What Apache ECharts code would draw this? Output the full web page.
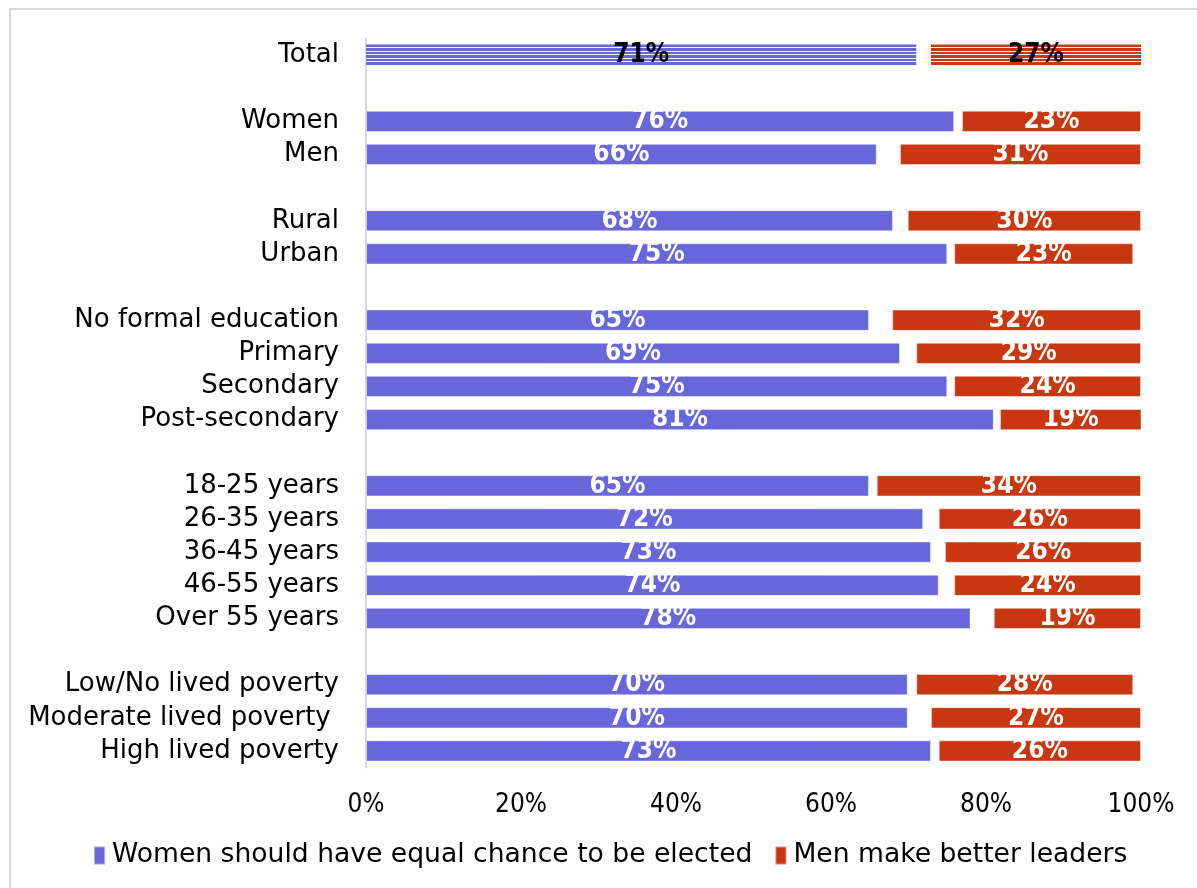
<!DOCTYPE html>
<html>
<head>
<meta charset="utf-8">
<script src="https://cdn.jsdelivr.net/npm/echarts@6/dist/echarts.min.js"></script>
<style>
html,body{margin:0;padding:0;background:#fff;}
#chart{width:1197px;height:888px;}
</style>
</head>
<body>
<div id="chart"></div>
<script>
// Categories ('' = spacer rows between groups)
const categories = ['Total','','Women','Men','','Rural','Urban','','No formal education','Primary','Secondary','Post-secondary','','18-25 years','26-35 years','36-45 years','46-55 years','Over 55 years','','Low/No lived poverty','Moderate lived poverty ','High lived poverty'];
// Women should have equal chance to be elected (%)
const equalChance = [71.0,null,75.9,65.9,null,68.0,75.0,null,64.9,68.9,75.0,81.0,null,64.9,71.9,72.9,73.9,78.0,null,69.9,69.9,72.9];
// Neither / don't know (unlabelled gap, %)
const neither = [1.9,null,1.0,3.0,null,1.9,0.9,null,3.0,2.1,0.9,0.8,null,1.0,2.0,1.8,2.0,3.0,null,1.1,3.0,1.0];
// Men make better leaders (%)
const menBetter = [27.1,null,23.1,31.1,null,30.1,23.1,null,32.1,29.0,24.1,18.5,null,34.1,26.1,25.5,24.1,19.0,null,28.0,27.1,26.1];
const xTicks = [0,20,40,60,80,100];

const BLUE = '#6767DB', ORANGE = '#C8370F';
function stripes(color){
  const n = 6, stops = [];
  for (let k = 0; k < n; k++) {
    const a = k / n, b = (k + 0.72) / n, c = (k + 1) / n;
    stops.push({offset: a, color: color}, {offset: b, color: color},
               {offset: b + 0.0001, color: '#f4f4fb'}, {offset: c - 0.0001, color: '#f4f4fb'});
  }
  return {type: 'linear', x: 0, y: 0, x2: 0, y2: 1, colorStops: stops};
}

const chart = echarts.init(document.getElementById('chart'), null, {renderer:'canvas'});
const catFont = 'DejaVu Sans';
const numFont = '"Liberation Sans Narrow","DejaVu Sans Condensed",sans-serif';

function mk(vals, color, isTotalStripe){
  return vals.map((v,i)=>{
    if (v == null) return {value: null};
    const item = {value: v};
    if (i === 0 && isTotalStripe) {
      item.itemStyle = {color: stripes(color), borderWidth: 0};
      item.label = {color: '#000'};
    }
    return item;
  });
}
const lbl = {
  show: true, position: 'inside', color: '#fff',
  fontFamily: numFont, fontWeight: 'bold', fontSize: 26,
  formatter: p => p.value == null ? '' : Math.round(p.value) + '%'
};

chart.setOption({
  animation: false,
  backgroundColor: '#fff',
  graphic: [{
    type: 'rect', shape: {x: 10, y: 9, width: 1400, height: 1100},
    style: {fill: 'none', stroke: '#d9d9d9', lineWidth: 2}, silent: true, z: -10
  }],
  grid: {left: 366, right: 56, top: 38.5, bottom: 120.5, containLabel: false},
  xAxis: {
    type: 'value', min: 0, max: 100, interval: 20,
    axisLine: {show: false}, axisTick: {show: false}, splitLine: {show: false},
    axisLabel: {formatter: '{value}%', color: '#000', fontFamily: numFont, fontSize: 26, margin: 25}
  },
  yAxis: {
    type: 'category', data: categories, inverse: true,
    axisLine: {show: true, lineStyle: {color: '#d9d9d9', width: 2}},
    axisTick: {show: false},
    axisLabel: {interval: 0, color: '#000', fontFamily: catFont, fontSize: 26, margin: 27}
  },
  legend: {
    data: ['Women should have equal chance to be elected', 'Men make better leaders'],
    bottom: 14, left: 88,
    itemWidth: 11, itemHeight: 18, itemGap: 22,
    icon: 'rect',
    textStyle: {color: '#000', fontFamily: '"DejaVu Sans",sans-serif', fontSize: 26.6, padding: [0,0,0,2]}
  },
  series: [
    {name: 'Women should have equal chance to be elected', type: 'bar', stack: 's', barWidth: '64%',
     itemStyle: {color: BLUE, borderColor: 'rgba(255,255,255,0.45)', borderWidth: 1},
     label: lbl, data: mk(equalChance, BLUE, true)},
    {name: 'Neither', type: 'bar', stack: 's', barWidth: '64%',
     itemStyle: {color: 'rgba(0,0,0,0)'}, label: {show: false}, data: neither, silent: true},
    {name: 'Men make better leaders', type: 'bar', stack: 's', barWidth: '64%',
     itemStyle: {color: ORANGE, borderColor: 'rgba(255,255,255,0.45)', borderWidth: 1},
     label: lbl, data: mk(menBetter, ORANGE, true)}
  ]
});
</script>
</body>
</html>
